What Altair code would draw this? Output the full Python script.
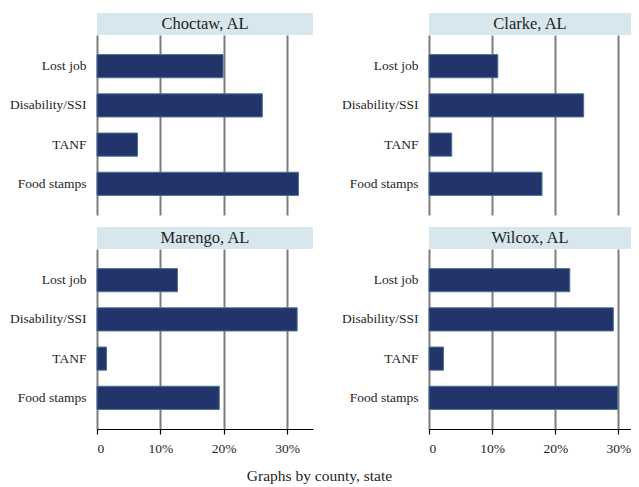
import altair as alt
import pandas as pd

counties = ["Choctaw, AL", "Clarke, AL", "Marengo, AL", "Wilcox, AL"]
categories = ["Lost job", "Disability/SSI", "TANF", "Food stamps"]
choctaw = [19.9, 26.1, 6.4, 31.8]
clarke = [10.9, 24.5, 3.6, 17.9]
marengo = [12.7, 31.6, 1.5, 19.3]
wilcox = [22.3, 29.2, 2.3, 29.9]
tick_values = [0, 10, 20, 30]

FONT = "Liberation Serif"
TXT = "#1e1e1e"
BAR_FILL = "#23346b"
BAR_STROKE = "#477395"
HDR = "#d8e6ee"
GRID = "#7c7c7c"
PH = 180
EXT = 89


def panel(name, values, W, xmax, bottom):
    df = pd.DataFrame({"category": categories, "value": values})
    xaxis = alt.Axis(
        values=tick_values, grid=True, gridColor=GRID, gridWidth=2,
        labels=bottom, ticks=bottom, domain=bottom,
        domainColor="black", domainWidth=1.2, tickColor="black", tickWidth=1.2, tickSize=5,
        labelExpr="datum.value == 0 ? '0' : datum.value + '%'",
        labelFont=FONT, labelFontSize=13.5, labelColor=TXT, labelPadding=7,
        title=None,
    )
    bars = alt.Chart(df).mark_bar(
        fill=BAR_FILL, stroke=BAR_STROKE, strokeWidth=1
    ).encode(
        x=alt.X("value:Q", scale=alt.Scale(domain=[0, xmax], nice=False, zero=True), axis=xaxis),
        y=alt.Y(
            "category:N", sort=categories,
            scale=alt.Scale(paddingInner=0.41, paddingOuter=0.5),
            axis=alt.Axis(
                title=None, domain=False, ticks=False, labelFont=FONT,
                labelFontSize=13.5, labelColor=TXT, labelPadding=11,
                minExtent=EXT, maxExtent=EXT,
            ),
        ),
    )
    hdr_df = pd.DataFrame({"county": [name]})
    rect = alt.Chart(hdr_df).mark_rect(color=HDR).encode(
        x=alt.value(0), x2=alt.value(W), y=alt.value(-22), y2=alt.value(0)
    )
    text = alt.Chart(hdr_df).mark_text(
        font=FONT, fontSize=16.5, color=TXT, baseline="middle", align="center"
    ).encode(x=alt.value(W / 2), y=alt.value(-11), text="county:N")
    return alt.layer(bars, rect, text).properties(width=W, height=PH)


top = alt.hconcat(
    panel(counties[0], choctaw, 216, 34.1, False),
    panel(counties[1], clarke, 202, 32.0, False),
    spacing=27,
)
bot = alt.hconcat(
    panel(counties[2], marengo, 216, 34.1, True),
    panel(counties[3], wilcox, 202, 32.0, True),
    spacing=27,
)

chart = alt.vconcat(top, bot, spacing=12).properties(
    title=alt.TitleParams(
        "Graphs by county, state", orient="bottom", anchor="middle",
        font=FONT, fontSize=15.5, fontWeight="normal", color=TXT, offset=14,
    ),
    padding={"left": 0, "top": 5, "right": 0, "bottom": 0},
).configure_view(stroke=None).configure_concat(spacing=12)

chart.save("out.html", embed_options={"renderer": "svg", "actions": False})
